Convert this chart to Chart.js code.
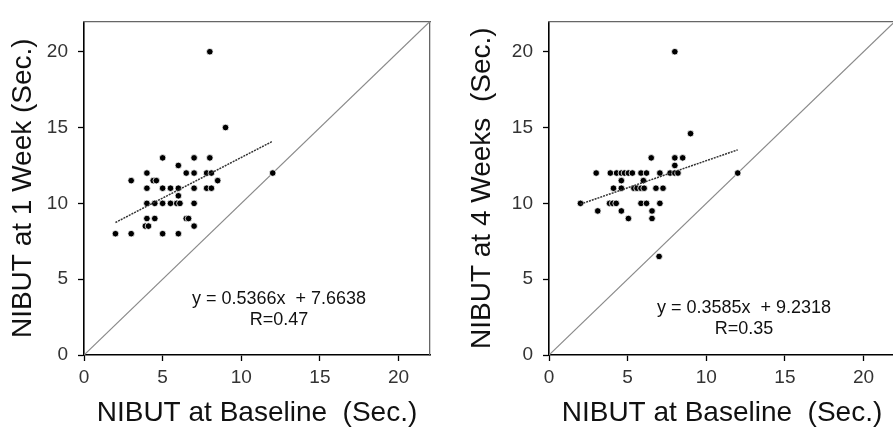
<!DOCTYPE html>
<html>
<head>
<meta charset="utf-8">
<script src="https://cdn.jsdelivr.net/npm/chart.js@4.4.0/dist/chart.umd.min.js"></script>
<style>
  html, body { margin: 0; padding: 0; background: #fff; overflow: hidden; }
  #wrap { position: relative; width: 893px; height: 428px; overflow: hidden; }
  canvas { position: absolute; top: 0; }
  #chartWeek1 { left: 0; }
  #chartWeek4 { left: 465px; }
</style>
</head>
<body>
<div id="wrap">
  <canvas id="chartWeek1" width="446" height="428"></canvas>
  <canvas id="chartWeek4" width="446" height="428"></canvas>
</div>
<script>
// values (seconds)
const baselineWeek1 = [8, 9, 5, 7, 8, 6, 4, 6.5, 7, 7.8, 8.1, 12, 3, 4.4, 4.6, 8.5, 4, 5, 5.5, 6, 7, 7.8, 8.1, 6, 4, 4.5, 5, 5.5, 5.9, 6.1, 7, 4, 4.5, 6.5, 6.65, 3.9, 4.1, 7, 2, 3, 5, 6];
const nibutWeek1 = [20, 15, 13, 13, 13, 12.5, 12, 12, 12, 12, 12, 12, 11.5, 11.5, 11.5, 11.5, 11, 11, 11, 11, 11, 11, 11, 10.5, 10, 10, 10, 10, 10, 10, 10, 9, 9, 9, 9, 8.5, 8.5, 8.5, 8, 8, 8, 8];

const baselineWeek4 = [8, 9, 6.5, 8, 8.5, 8, 3, 3.9, 4.3, 4.6, 4.8, 5.05, 5.3, 5.85, 6.2, 7.05, 7.7, 8, 8.2, 12, 4.6, 6, 4.1, 4.6, 5.4, 5.6, 5.85, 6.05, 6.8, 7.25, 2, 3.85, 4.05, 4.27, 5.85, 6.2, 7.05, 3.1, 4.6, 6.55, 5.05, 6.55, 7];
const nibutWeek4 = [20, 14.6, 13, 13, 13, 12.5, 12, 12, 12, 12, 12, 12, 12, 12, 12, 12, 12, 12, 12, 12, 11.5, 11.5, 11, 11, 11, 11, 11, 11, 11, 11, 10, 10, 10, 10, 10, 10, 10, 9.5, 9.5, 9.5, 9, 9, 6.5];

const trendWeek1X = [2, 12];
const trendWeek1Y = [8.74, 14.10];
const trendWeek4X = [2, 12];
const trendWeek4Y = [9.95, 13.53];

const identityLine = [0, 22];
const axisTicks = [0, 5, 10, 15, 20];

const noteWeek1 = ['y = 0.5366x  + 7.6638', 'R=0.47'];
const noteWeek4 = ['y = 0.3585x  + 9.2318', 'R=0.35'];

const FONT = '"Liberation Sans", Arial, sans-serif';
Chart.defaults.font.family = FONT;

const notePlugin = {
    id: 'notes',
    afterDatasetsDraw(chart, args, opts) {
        const { ctx, scales } = chart;
        const px = scales.x.getPixelForValue(opts.at[0]);
        const py = scales.y.getPixelForValue(opts.at[1]);
        ctx.save();
        ctx.font = '18px ' + FONT;
        ctx.fillStyle = '#111';
        ctx.textAlign = 'center';
        ctx.textBaseline = 'middle';
        opts.lines.forEach((text, i) => ctx.fillText(text, px, py + i * 21));
        ctx.restore();
    }
};

function keepTicks(scale) {
    scale.ticks = axisTicks.map(v => ({ value: v }));
}

function frameAxis(axis, position) {
    return {
        axis, position, display: true,
        ticks: { display: false },
        grid: { display: false },
        border: { display: true, color: '#666', width: 1.3 },
        afterFit: s => { if (axis === 'x') s.height = 0; else s.width = 0; }
    };
}

function buildChart(id, xs, ys, trendX, trendY, yTitle, titlePad, note, noteAt) {
    const points = xs.map((v, i) => ({ x: v, y: ys[i] }));
    const trend = trendX.map((v, i) => ({ x: v, y: trendY[i] }));
    const identity = identityLine.map(v => ({ x: v, y: v }));

    new Chart(document.getElementById(id), {
        type: 'scatter',
        data: {
            datasets: [
                {
                    data: trend, showLine: true, order: 0,
                    borderColor: '#333', borderWidth: 1.5, borderDash: [2, 1],
                    pointRadius: 0
                },
                {
                    data: points, order: 1,
                    pointRadius: 3.3, pointBackgroundColor: '#000',
                    pointBorderColor: '#fff', pointBorderWidth: 0.8
                },
                {
                    data: identity, showLine: true, order: 2,
                    borderColor: '#8a8a8a', borderWidth: 1.2, pointRadius: 0
                }
            ]
        },
        options: {
            responsive: false,
            animation: false,
            layout: { padding: { left: 0, top: 11, right: 16, bottom: 0 } },
            plugins: {
                legend: { display: false },
                tooltip: { enabled: false },
                notes: { lines: note, at: noteAt }
            },
            scales: {
                x: {
                    type: 'linear', min: 0, max: 22,
                    afterBuildTicks: keepTicks,
                    afterFit: s => { s.height = 73; },
                    ticks: { autoSkip: false, padding: 5, color: '#333', font: { size: 19 } },
                    grid: { drawOnChartArea: false, tickLength: 6, color: '#000', tickWidth: 1.3 },
                    border: { color: '#000', width: 1.6 },
                    title: {
                        display: true, text: 'NIBUT at Baseline  (Sec.)', color: '#111',
                        font: { size: 28, lineHeight: 1 }, padding: { top: 0, bottom: 1 }
                    }
                },
                y: {
                    type: 'linear', min: 0, max: 22,
                    afterBuildTicks: keepTicks,
                    afterFit: s => { s.width = 84; },
                    ticks: { autoSkip: false, padding: 10, color: '#333', font: { size: 19 } },
                    grid: { drawOnChartArea: false, tickLength: 6, color: '#000', tickWidth: 1.3 },
                    border: { color: '#000', width: 1.6 },
                    title: {
                        display: true, text: yTitle, color: '#111',
                        font: { size: 28, lineHeight: 1 }, padding: { top: titlePad, bottom: 0 }
                    }
                },
                x2: frameAxis('x', 'top'),
                y2: frameAxis('y', 'right')
            }
        },
        plugins: [notePlugin]
    });
}

buildChart('chartWeek1', baselineWeek1, nibutWeek1, trendWeek1X, trendWeek1Y,
    'NIBUT at 1 Week (Sec.)', 9, noteWeek1, [12.4, 3.69]);
buildChart('chartWeek4', baselineWeek4, nibutWeek4, trendWeek4X, trendWeek4Y,
    'NIBUT at 4 Weeks  (Sec.)', 3, noteWeek4, [12.4, 3.09]);
</script>
</body>
</html>
